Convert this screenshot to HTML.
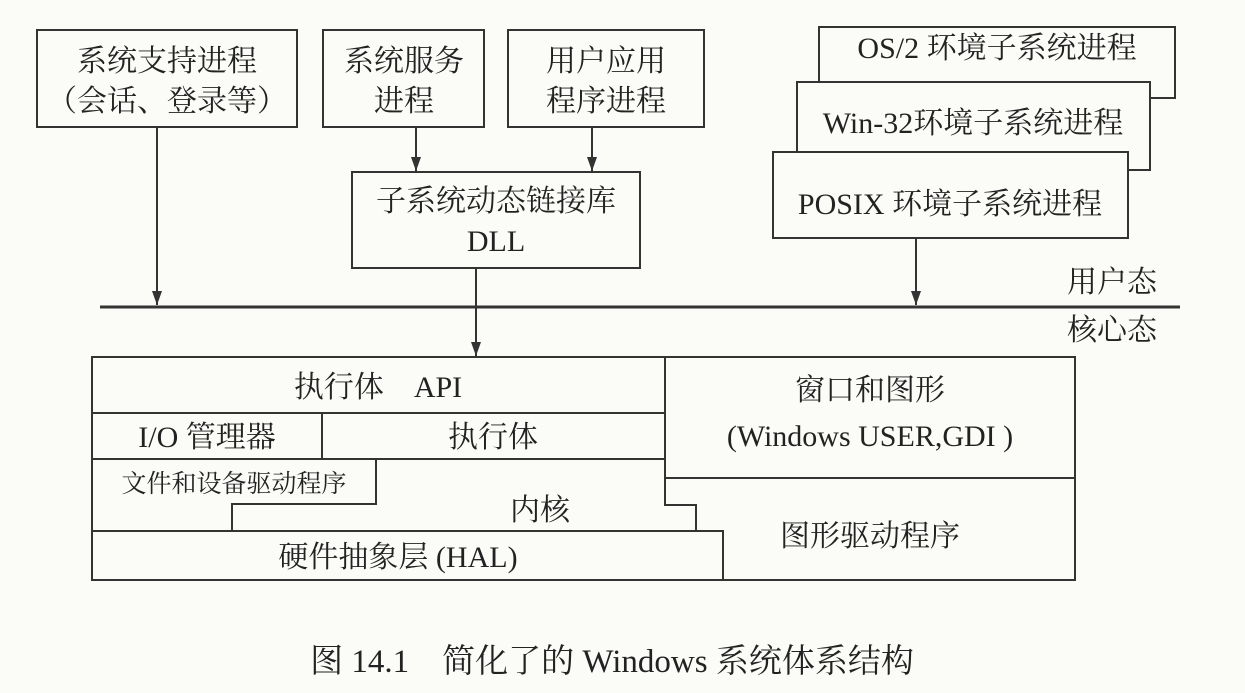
<!DOCTYPE html>
<html><head><meta charset="utf-8"><style>
body{margin:0;background:#fbfbf8;}
svg{display:block}
text{font-family:"Liberation Serif","Noto Serif CJK SC",serif;fill:#222;text-anchor:middle;}
</style></head><body>
<svg width="1245" height="693" viewBox="0 0 1245 693" xmlns="http://www.w3.org/2000/svg">
<defs><marker id="a" markerWidth="14" markerHeight="10" refX="14" refY="5" orient="auto" markerUnits="userSpaceOnUse" viewBox="0 0 14 10"><path d="M0,0 L14,5 L0,10 Z" fill="#333"/></marker></defs>
<g fill="none" stroke="#333" stroke-width="2">
<rect x="37" y="30" width="260" height="97"/>
<rect x="323" y="30" width="161" height="97"/>
<rect x="508" y="30" width="196" height="97"/>
<rect x="819" y="27" width="356" height="71" fill="#fbfbf8"/>
<rect x="797" y="82" width="353" height="88" fill="#fbfbf8"/>
<rect x="773" y="152" width="355" height="86" fill="#fbfbf8"/>
<rect x="352" y="172" width="288" height="96"/>
<line x1="100" y1="307" x2="1180" y2="307" stroke-width="3"/>
<line x1="157" y1="127" x2="157" y2="305" marker-end="url(#a)"/>
<line x1="416" y1="127" x2="416" y2="171" marker-end="url(#a)"/>
<line x1="592" y1="127" x2="592" y2="171" marker-end="url(#a)"/>
<line x1="476" y1="268" x2="476" y2="356" marker-end="url(#a)"/>
<line x1="916" y1="238" x2="916" y2="305" marker-end="url(#a)"/>
<rect x="92" y="357" width="983" height="223"/>
<line x1="92" y1="413" x2="665" y2="413"/>
<line x1="92" y1="459" x2="665" y2="459"/>
<line x1="665" y1="357" x2="665" y2="478"/>
<line x1="665" y1="478" x2="1075" y2="478"/>
<line x1="322" y1="413" x2="322" y2="459"/>
<polyline points="376,459 376,504 232,504 232,531"/>
<polyline points="665,478 665,505 696,505 696,531"/>
<polyline points="92,531 723,531 723,580"/>
</g>
<g font-size="30">
<text x="167" y="71">系统支持进程</text>
<text x="167" y="111">（会话、登录等）</text>
<text x="404" y="71">系统服务</text>
<text x="404" y="111">进程</text>
<text x="606" y="71">用户应用</text>
<text x="606" y="111">程序进程</text>
<text x="997" y="58">OS/2 环境子系统进程</text>
<text x="973" y="133">Win-32环境子系统进程</text>
<text x="950" y="214">POSIX 环境子系统进程</text>
<text x="496" y="211">子系统动态链接库</text>
<text x="496" y="251">DLL</text>
<text x="1112" y="292">用户态</text>
<text x="1112" y="340">核心态</text>
<text x="378" y="397">执行体　API</text>
<text x="207" y="447">I/O 管理器</text>
<text x="493" y="447">执行体</text>
<text x="540" y="520">内核</text>
<text x="398" y="567">硬件抽象层 (HAL)</text>
<text x="870" y="400">窗口和图形</text>
<text x="870" y="446">(Windows  USER,GDI )</text>
<text x="870" y="546">图形驱动程序</text>
</g>
<text x="234" y="492" font-size="25">文件和设备驱动程序</text>
<text x="612" y="672" font-size="33" fill="#444">图 14.1　简化了的 Windows 系统体系结构</text>
</svg>
</body></html>
